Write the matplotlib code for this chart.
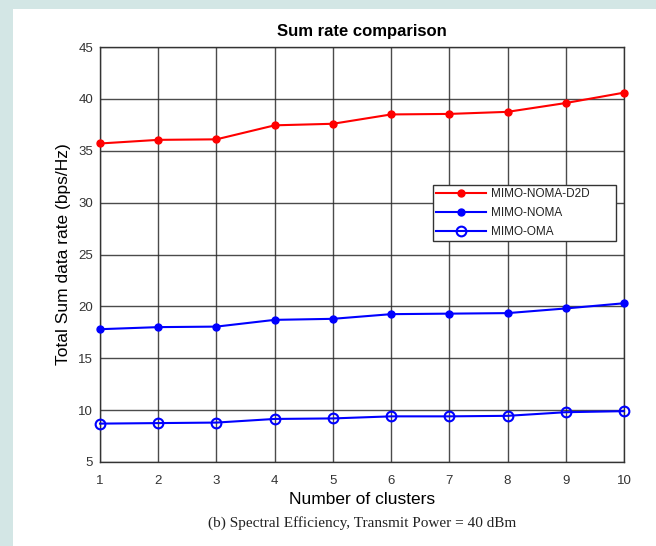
import matplotlib.pyplot as plt
from matplotlib.patches import Rectangle

# number of clusters on x axis
clusters = [1, 2, 3, 4, 5, 6, 7, 8, 9, 10]

# sum rates (bps/Hz)
rate_noma_d2d = [35.7, 36.05, 36.1, 37.45, 37.6, 38.5, 38.55, 38.75, 39.6, 40.6]
rate_noma = [17.8, 18.0, 18.05, 18.7, 18.8, 19.25, 19.3, 19.35, 19.8, 20.3]
rate_oma = [8.7, 8.75, 8.8, 9.15, 9.2, 9.4, 9.4, 9.45, 9.8, 9.9]

series_names = ["MIMO-NOMA-D2D", "MIMO-NOMA", "MIMO-OMA"]
y_ticks = [5, 10, 15, 20, 25, 30, 35, 40, 45]

plt.rcParams["font.family"] = ["Liberation Sans", "DejaVu Sans"]

fig = plt.figure(figsize=(6.56, 5.46), dpi=100, facecolor="white")

# light teal page border on left and top
teal = "#d3e6e5"
fig.patches.append(Rectangle((0, 0), 13 / 656, 1, transform=fig.transFigure,
                             facecolor=teal, edgecolor="none", zorder=-1))
fig.patches.append(Rectangle((0, 1 - 9 / 546), 1, 9 / 546, transform=fig.transFigure,
                             facecolor=teal, edgecolor="none", zorder=-1))

ax = fig.add_axes([100 / 656, 1 - 462 / 546, 524 / 656, 415 / 546])

ax.plot(clusters, rate_noma_d2d, color="red", lw=1.5, marker="o", ms=5,
        label=series_names[0], clip_on=False, zorder=3)
ax.plot(clusters, rate_noma, color="blue", lw=1.5, marker="o", ms=5,
        label=series_names[1], clip_on=False, zorder=3)
ax.plot(clusters, rate_oma, color="blue", lw=1.5, marker="o", ms=7,
        mfc="none", mew=1.5, label=series_names[2], clip_on=False, zorder=3)

ax.set_xlim(1, 10)
ax.set_ylim(5, 45)
ax.set_xticks(clusters)
ax.set_yticks(y_ticks)
ax.grid(True, color="#2b2b2b", lw=1, alpha=0.85)
ax.set_axisbelow(True)
ax.tick_params(axis="y", length=0, labelsize=9.5, colors="#333333", pad=5)
ax.tick_params(axis="x", length=0, labelsize=9.5, colors="#333333", pad=9)
for s in ax.spines.values():
    s.set_color("#333333")
    s.set_linewidth(1)

ax.set_title("Sum rate comparison", fontsize=12, fontweight="bold", pad=8)
ax.set_xlabel("Number of clusters", fontsize=12.5, labelpad=4)
ax.set_ylabel("Total Sum data rate (bps/Hz)", fontsize=12.5, labelpad=5)

leg = ax.legend(loc="upper left",
                bbox_to_anchor=(333 / 524, 1 - 138 / 415, 183 / 524, 0),
                mode="expand",
                fontsize=8.5, frameon=True, fancybox=False, framealpha=1,
                edgecolor="#333333", handlelength=4.2, labelspacing=0.6,
                borderpad=0.25, handletextpad=0.5, borderaxespad=0)
leg.get_frame().set_linewidth(1)
for t in leg.get_texts():
    t.set_color("#222222")

fig.text(362 / 656, 1 - 523 / 546, "(b) Spectral Efficiency, Transmit Power = 40 dBm",
         ha="center", va="center", fontsize=11, family="Liberation Serif",
         color="#222222")

fig.savefig("out.png", dpi=100, facecolor=fig.get_facecolor())
